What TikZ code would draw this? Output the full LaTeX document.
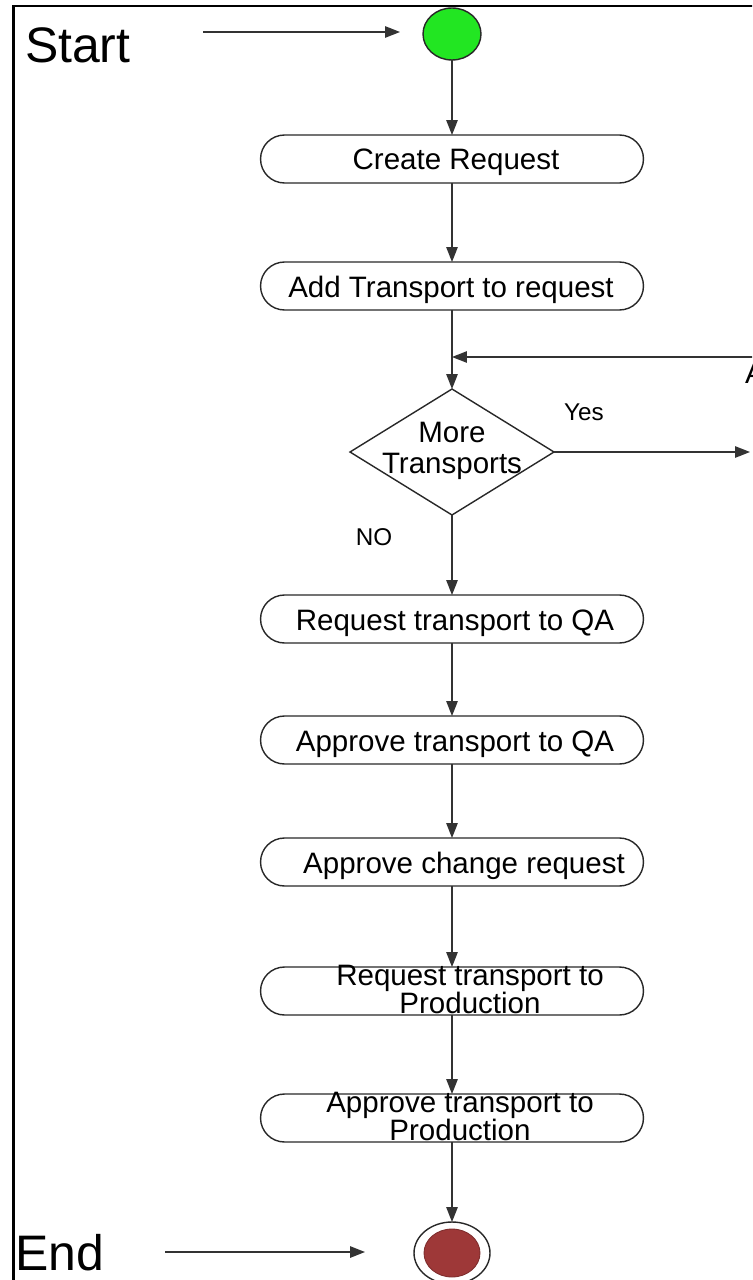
\documentclass[tikz,border=0pt]{standalone}
\usepackage{fontspec}
\setmainfont{Liberation Sans}
\usetikzlibrary{arrows.meta,shapes.geometric}
\definecolor{startgreen}{RGB}{34,230,34}
\definecolor{endred}{RGB}{158,56,56}
\definecolor{edge}{RGB}{40,40,40}

\begin{document}
\begin{tikzpicture}[x=0.02cm,y=-0.02cm,
  every node/.style={inner sep=0pt,outer sep=0pt},
  stepbox/.style={draw=edge,line width=0.8pt,rounded corners=0.48cm,
    minimum width=7.66cm,minimum height=0.96cm},
  steptext/.style={anchor=base,font=\fontsize{16.8}{18}\selectfont},
  bigtext/.style={anchor=base west,font=\fontsize{28.4}{30}\selectfont},
  guard/.style={anchor=base,font=\fontsize{13.8}{15}\selectfont},
  decision/.style={draw=edge,line width=0.8pt,shape=diamond,
    minimum width=4.08cm,minimum height=2.52cm},
  flow/.style={draw=black!80,line width=0.8pt,
    -{Triangle[length=8.5pt,width=6.5pt]}},
]
\useasboundingbox (0,0) rectangle (752,1280);
\clip (0,0) rectangle (752,1280);

% frame
\draw[line width=1.7pt] (13.5,1300) -- (13.5,6) -- (770,6);

% start and end markers
\node[shape=ellipse,draw=edge,line width=0.8pt,fill=startgreen,
  minimum width=1.16cm,minimum height=1.04cm] (s) at (452,34) {};
\node[shape=ellipse,draw=edge,line width=0.8pt,
  minimum width=1.52cm,minimum height=1.24cm] (e) at (452,1253) {};
\node[shape=ellipse,fill=endred,draw=endred!80!black,line width=0.5pt,
  minimum width=1.12cm,minimum height=0.96cm] (ein) at (452,1253) {};

\node[bigtext] (lstart) at (25,63) {Start};
\node[bigtext] (lend) at (15,1270) {End};
\coordinate (sa) at (203,32);
\coordinate (sb) at (400,32);
\coordinate (ea) at (165,1252);
\coordinate (eb) at (365,1252);
\draw[flow] (sa) -- (sb);
\draw[flow] (ea) -- (eb);

% activity steps
\node[stepbox] (b1) at (452,159) {};
\node[stepbox] (b2) at (452,286) {};
\node[decision] (d) at (452,452) {};
\node[stepbox] (b3) at (452,619) {};
\node[stepbox] (b4) at (452,740) {};
\node[stepbox] (b5) at (452,862) {};
\node[stepbox] (b6) at (452,991) {};
\node[stepbox] (b7) at (452,1118) {};

\node[steptext] (t1) at (456,170) {Create Request};
\node[steptext] (t2) at (451,297) {Add Transport to request};
\node[steptext] (td1) at (452,442) {More};
\node[steptext] (td2) at (452,473) {Transports};
\node[steptext] (t3) at (455,630) {Request transport to QA};
\node[steptext] (t4) at (455,751) {Approve transport to QA};
\node[steptext] (t5) at (464,873) {Approve change request};
\node[steptext] (t6a) at (470,985) {Request transport to};
\node[steptext] (t6b) at (470,1013) {Production};
\node[steptext] (t7a) at (460,1112) {Approve transport to};
\node[steptext] (t7b) at (460,1140) {Production};

\node[guard] (gy) at (584,420) {Yes};
\node[guard] (gn) at (374,545) {NO};

% connector from the continuation on the right
\node[steptext,anchor=base west] (conA) at (745,383) {A};
\coordinate (la) at (770,357);
\coordinate (lb) at (452,357);
\coordinate (yb) at (750,452);

% control flow
\draw[flow] (s) -- (b1);
\draw[flow] (b1) -- (b2);
\draw[flow] (b2) -- (d);
\draw[flow] (la) -- (lb);
\draw[flow] (d.east) -- (yb);
\draw[flow] (d) -- (b3);
\draw[flow] (b3) -- (b4);
\draw[flow] (b4) -- (b5);
\draw[flow] (b5) -- (b6);
\draw[flow] (b6) -- (b7);
\draw[flow] (b7) -- (e);
\end{tikzpicture}
\end{document}
